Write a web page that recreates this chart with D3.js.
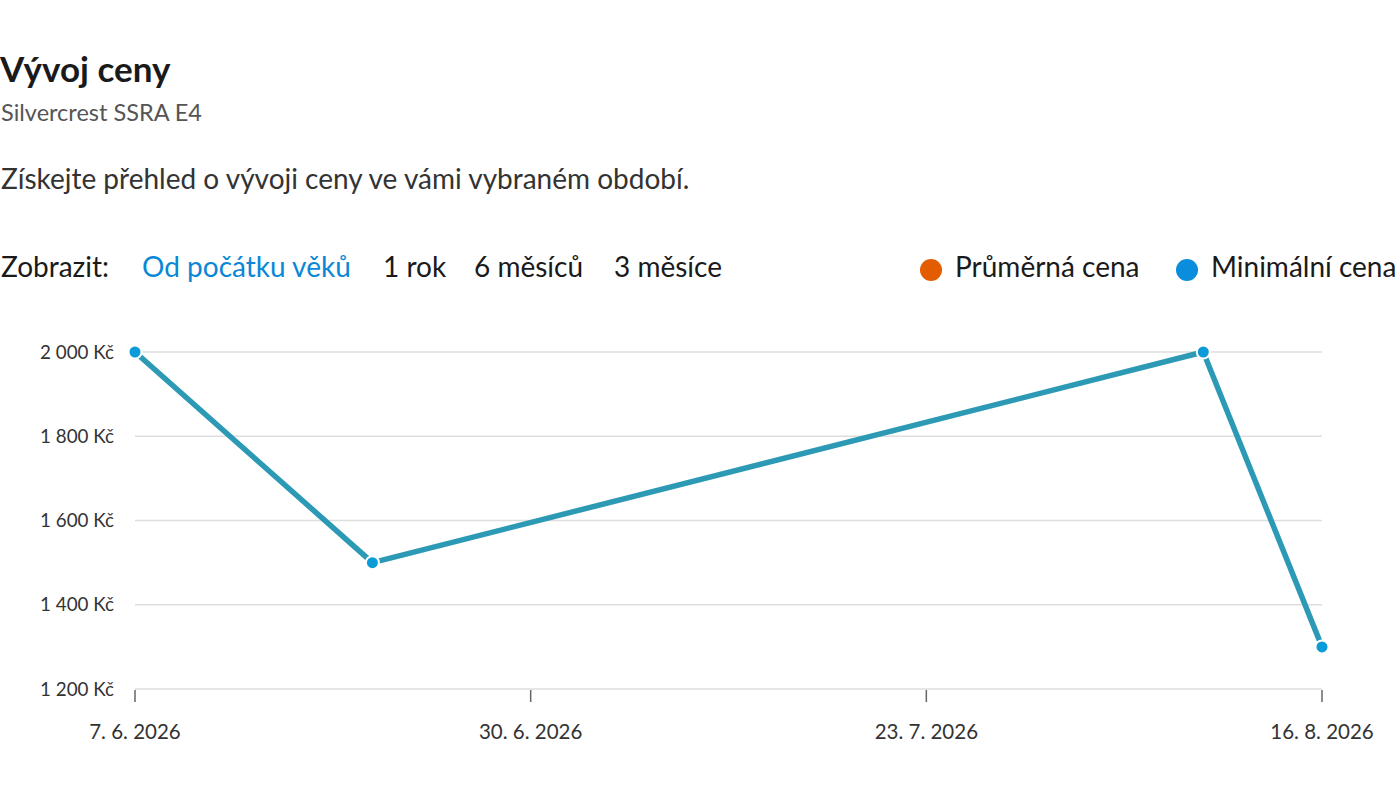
<!DOCTYPE html>
<html>
<head>
<meta charset="utf-8">
<script src="https://cdn.jsdelivr.net/npm/d3@7/dist/d3.min.js"></script>
<style>
  html, body { margin: 0; padding: 0; background: #fff; overflow: hidden; }
  svg { display: block; font-family: Lato, "Noto Sans", sans-serif; }
</style>
</head>
<body>
<svg id="chart" width="1400" height="804"></svg>
<script>
// ---- data ----
const dates = ["2026-06-07", "2026-06-21", "2026-08-09", "2026-08-16"];
const minPrices = [2000, 1500, 2000, 1300];
const avgPrices = [2000, 1500, 2000, 1300];
const yTicks = [1200, 1400, 1600, 1800, 2000];
const xTickDates = ["2026-06-07T00:00", "2026-06-30T08:00", "2026-07-23T16:00", "2026-08-16T00:00"];
const periodOptions = ["Od počátku věků", "1 rok", "6 měsíců", "3 měsíce"];
const seriesNames = ["Průměrná cena", "Minimální cena"];
const seriesColors = ["#e35d00", "#0a8ddc"];

const svg = d3.select("#chart");
const parse = d3.isoParse;

// ---- header texts ----
svg.append("text").attr("x", 0).attr("y", 82)
  .attr("font-size", 35).attr("font-weight", 700).attr("fill", "#1a1a1a")
  .text("Vývoj ceny");
svg.append("text").attr("x", 1).attr("y", 121)
  .attr("font-size", 23.5).attr("fill", "#555")
  .text("Silvercrest SSRA E4");
svg.append("text").attr("x", 1).attr("y", 189)
  .attr("font-size", 28).attr("fill", "#333")
  .text("Získejte přehled o vývoji ceny ve vámi vybraném období.");

// controls
svg.append("text").attr("x", 1).attr("y", 277)
  .attr("font-size", 28).attr("fill", "#1a1a1a").text("Zobrazit:");
const optX = [142, 383, 474, 614];
periodOptions.forEach((o, i) => {
  svg.append("text").attr("x", optX[i]).attr("y", 277)
    .attr("font-size", 28).attr("fill", i === 0 ? "#0a87d6" : "#1a1a1a").text(o);
});

// legend
const legX = [931, 1187];
seriesNames.forEach((n, i) => {
  svg.append("circle").attr("cx", legX[i]).attr("cy", 270).attr("r", 11).attr("fill", seriesColors[i]);
  svg.append("text").attr("x", legX[i] + 24).attr("y", 277)
    .attr("font-size", 28).attr("fill", "#1a1a1a").text(n);
});

// ---- scales ----
const x = d3.scaleTime()
  .domain([parse(xTickDates[0]), parse(xTickDates[3])])
  .range([135, 1322]);
const y = d3.scaleLinear().domain([1200, 2000]).range([689, 352]);

const locale = d3.formatLocale({ decimal: ",", thousands: "\u00a0", grouping: [3], currency: ["", "\u00a0Kč"] });
const fmtY = locale.format("$,.0f");
const fmtX = d => `${d.getDate()}. ${d.getMonth() + 1}. ${d.getFullYear()}`;

// gridlines
svg.append("g").selectAll("line").data(yTicks).join("line")
  .attr("x1", 135).attr("x2", 1322)
  .attr("y1", d => y(d)).attr("y2", d => y(d))
  .attr("stroke", "#dedede").attr("stroke-width", 1.5);

// y labels
svg.append("g").selectAll("text").data(yTicks).join("text")
  .attr("x", 114).attr("y", d => y(d) + 6.5)
  .attr("text-anchor", "end").attr("font-size", 18.8).attr("fill", "#333")
  .text(d => fmtY(d));

// x axis ticks
const xt = xTickDates.map(parse);
svg.append("g").selectAll("line").data(xt).join("line")
  .attr("x1", d => x(d)).attr("x2", d => x(d))
  .attr("y1", 690).attr("y2", 702)
  .attr("stroke", "#666").attr("stroke-width", 1.5);
svg.append("g").selectAll("text").data(xt).join("text")
  .attr("x", d => x(d)).attr("y", 739)
  .attr("text-anchor", "middle").attr("font-size", 20.5).attr("fill", "#333")
  .text(d => fmtX(d));

// ---- lines ----
const ptsMin = dates.map((d, i) => ({ d: parse(d), v: minPrices[i] }));
const ptsAvg = dates.map((d, i) => ({ d: parse(d), v: avgPrices[i] }));
const line = d3.line().x(p => x(p.d)).y(p => y(p.v));

svg.append("path").datum(ptsAvg).attr("d", line)
  .attr("fill", "none").attr("stroke", seriesColors[0]).attr("stroke-width", 3.5)
  .attr("stroke-linejoin", "round");
svg.append("path").datum(ptsMin).attr("d", line)
  .attr("fill", "none").attr("stroke", "#2d9ab5").attr("stroke-width", 5.5)
  .attr("stroke-linejoin", "round");

svg.append("g").selectAll("circle").data(ptsMin).join("circle")
  .attr("cx", p => x(p.d)).attr("cy", p => y(p.v)).attr("r", 6.5)
  .attr("fill", "#0b9bd8").attr("stroke", "#fff").attr("stroke-width", 2);
</script>
</body>
</html>
